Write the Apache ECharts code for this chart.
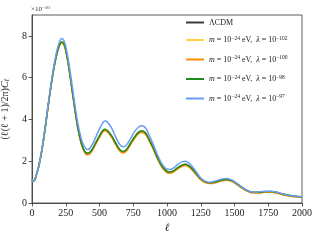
<!DOCTYPE html>
<html><head><meta charset="utf-8">
<script src="https://cdn.jsdelivr.net/npm/echarts@6/dist/echarts.min.js"></script>
<style>html,body{margin:0;padding:0;background:#fff}#c{width:320px;height:240px}</style>
</head><body><div id="c"></div>
<script>
const ell = [2,10,20,30,50,75,100,125,150,175,200,220,240,260,280,300,320,340,360,380,400,415,440,470,500,520,540,560,590,620,650,675,700,730,760,790,815,840,870,900,930,960,990,1020,1050,1080,1110,1135,1160,1190,1220,1250,1280,1320,1360,1400,1440,1480,1520,1560,1600,1640,1680,1720,1770,1810,1850,1900,1950,2000];
const lcdm = [1.13,1.05,1.1,1.3,1.75,2.6,3.7,4.9,6.0,6.9,7.5,7.7,7.55,7.0,6.2,5.3,4.4,3.6,3.0,2.6,2.4,2.37,2.5,2.85,3.2,3.42,3.52,3.45,3.2,2.85,2.55,2.45,2.55,2.85,3.15,3.38,3.44,3.35,3.0,2.6,2.15,1.78,1.55,1.47,1.54,1.68,1.8,1.84,1.78,1.6,1.37,1.15,1.02,0.96,1.0,1.08,1.12,1.06,0.9,0.72,0.57,0.5,0.5,0.53,0.54,0.5,0.43,0.36,0.31,0.29];
const lam102 = [1.13,1.05,1.1,1.3,1.75,2.6,3.7,4.9,6.0,6.9,7.5,7.7,7.55,7.0,6.2,5.3,4.4,3.6,3.0,2.6,2.4,2.37,2.5,2.85,3.2,3.42,3.52,3.45,3.2,2.85,2.55,2.45,2.55,2.85,3.15,3.38,3.44,3.35,3.0,2.6,2.15,1.78,1.55,1.47,1.54,1.68,1.8,1.84,1.78,1.6,1.37,1.15,1.02,0.96,1.0,1.08,1.12,1.06,0.9,0.72,0.57,0.5,0.5,0.53,0.54,0.5,0.43,0.36,0.31,0.29];
const lam100 = [1.13,1.05,1.1,1.3,1.75,2.6,3.69,4.88,5.98,6.87,7.47,7.67,7.52,6.97,6.16,5.26,4.36,3.56,2.95,2.55,2.34,2.31,2.44,2.79,3.14,3.36,3.46,3.39,3.14,2.79,2.49,2.39,2.49,2.79,3.09,3.32,3.38,3.29,2.95,2.55,2.1,1.73,1.5,1.42,1.49,1.63,1.75,1.79,1.73,1.55,1.33,1.11,0.98,0.93,0.97,1.05,1.09,1.03,0.87,0.69,0.55,0.48,0.48,0.51,0.52,0.48,0.41,0.34,0.3,0.28];
const lam98 = [1.13,1.05,1.1,1.3,1.75,2.6,3.7,4.9,6.0,6.9,7.5,7.71,7.56,7.0,6.2,5.3,4.4,3.6,3.0,2.6,2.4,2.38,2.51,2.86,3.21,3.43,3.53,3.46,3.21,2.86,2.56,2.46,2.56,2.86,3.16,3.39,3.45,3.36,3.01,2.61,2.16,1.79,1.56,1.48,1.55,1.69,1.81,1.85,1.79,1.61,1.38,1.16,1.03,0.97,1.01,1.09,1.13,1.07,0.91,0.73,0.58,0.51,0.51,0.54,0.55,0.51,0.44,0.37,0.32,0.29];
const lam97 = [1.13,1.05,1.1,1.3,1.76,2.62,3.75,4.97,6.1,7.02,7.66,7.87,7.72,7.18,6.4,5.5,4.6,3.8,3.2,2.8,2.6,2.56,2.72,3.12,3.55,3.8,3.92,3.86,3.58,3.15,2.8,2.69,2.78,3.08,3.42,3.64,3.7,3.6,3.22,2.78,2.3,1.9,1.66,1.6,1.68,1.85,1.97,2.0,1.93,1.72,1.46,1.2,1.05,0.99,1.05,1.14,1.17,1.1,0.93,0.74,0.59,0.52,0.53,0.56,0.56,0.52,0.45,0.37,0.32,0.3];
const xTicks = [0,250,500,750,1000,1250,1500,1750,2000];
const yTicks = [0,2,4,6,8];
const seriesNames = ['ΛCDM','λ102','λ100','λ98','λ97'];
const legendLabels = {
  'ΛCDM': 'ΛCDM',
  'λ102': '{it|m} = 10{sup|−24} eV,  {it|λ} = 10{sup|−102}',
  'λ100': '{it|m} = 10{sup|−24} eV,  {it|λ} = 10{sup|−100}',
  'λ98': '{it|m} = 10{sup|−24} eV,  {it|λ} = 10{sup|−98}',
  'λ97': '{it|m} = 10{sup|−24} eV,  {it|λ} = 10{sup|−97}'
};
const colors = ['#3a3a3a','#ffd24a','#ff8c00','#1f8a1f','#6a9cf0'];
const datasets = [lcdm, lam102, lam100, lam98, lam97];
const FONT = '"Liberation Serif","DejaVu Serif",serif';

const chart = echarts.init(document.getElementById('c'));
chart.setOption({
  animation: false,
  backgroundColor: '#fff',
  grid: {left: 32, right: 18, top: 15, bottom: 37, containLabel: false, outerBoundsMode: 'none', show: true, borderColor: '#333', borderWidth: 0.8, backgroundColor: 'transparent'},
  xAxis: {
    type: 'value', min: 0, max: 2000, interval: 250,
    name: 'ℓ', nameLocation: 'middle', nameGap: 20,
    nameTextStyle: {fontFamily: FONT, fontStyle: 'italic', fontSize: 11, color: '#222'},
    axisLine: {lineStyle: {color: '#333', width: 0.8}},
    axisTick: {show: true, length: 3.5, customValues: xTicks, lineStyle: {color: '#333', width: 0.8}},
    axisLabel: {fontFamily: FONT, fontSize: 10, color: '#222', margin: 5, customValues: xTicks, formatter: v => String(v)},
    splitLine: {show: false}
  },
  yAxis: {
    type: 'value', min: 0, max: 9,
    name: '{p|(ℓ(ℓ + 1)/2π)}{it|C}{sub|ℓ}', nameLocation: 'middle', nameGap: 18,
    nameTextStyle: {fontFamily: FONT, fontSize: 10, color: '#222',
      rich: {p: {fontFamily: FONT, fontSize: 10, color: '#222'}, it: {fontFamily: FONT, fontStyle: 'italic', fontSize: 10, color: '#222'}, sub: {fontFamily: FONT, fontStyle: 'italic', fontSize: 7, color: '#222', verticalAlign: 'bottom', padding: [4,0,0,0]}}},
    axisLine: {show: true, lineStyle: {color: '#333', width: 0.8}},
    axisTick: {show: true, length: 3.5, customValues: yTicks, lineStyle: {color: '#333', width: 0.8}},
    axisLabel: {fontFamily: FONT, fontSize: 10, color: '#222', margin: 5, customValues: yTicks},
    splitLine: {show: false}
  },
  legend: {
    orient: 'vertical', left: 181, top: 13, itemWidth: 18, itemHeight: 2, itemGap: 8.5, icon: 'rect',
    data: seriesNames,
    formatter: n => legendLabels[n],
    textStyle: {fontFamily: FONT, fontSize: 8, color: '#222', lineHeight: 9,
      rich: {it: {fontFamily: FONT, fontStyle: 'italic', fontSize: 8, color: '#222'},
             sup: {fontFamily: FONT, fontSize: 5.5, color: '#222', verticalAlign: 'top', lineHeight: 9, padding: [0,0,5,0]}}}
  },
  graphic: [{
    type: 'text', left: 31, top: 5,
    style: {text: '×10{s|−10}', font: '7px ' + FONT, fill: '#333',
      rich: {s: {fontSize: 5, fontFamily: FONT, fill: '#333', padding: [0,0,4,0]}}}
  }],
  series: datasets.map((d, i) => ({
    type: 'line', name: seriesNames[i], smooth: 0.4, symbol: 'none',
    lineStyle: {color: colors[i], width: 1.5}, itemStyle: {color: colors[i]},
    data: ell.map((l, k) => [l, d[k]]), z: 2 + i
  }))
});
</script></body></html>
